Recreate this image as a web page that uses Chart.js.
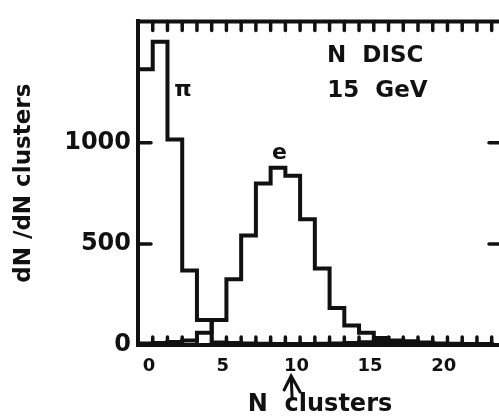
<!DOCTYPE html>
<html>
<head>
<meta charset="utf-8">
<script src="https://cdn.jsdelivr.net/npm/chart.js@4.4.0/dist/chart.umd.min.js"></script>
<style>
  html, body { margin: 0; padding: 0; background: #fff; overflow: hidden; }
  canvas { display: block; }
</style>
</head>
<body>
<canvas id="ndisc-clusters" width="502" height="419"></canvas>
<script>
/* N DISC, 15 GeV: cluster count for pions and electrons */
const binEdges = [-0.75, 0.25, 1.25, 2.25, 3.25, 4.25, 5.25, 6.25, 7.25, 8.25, 9.25, 10.25,
    11.25, 12.25, 13.25, 14.25, 15.25, 16.25, 17.25, 18.25, 19.25, 20.25, 21.25, 22.25, 23.25];
const pionCounts = [1364, 1499, 1016, 368, 124, 12, 10, 8, 6, 5, 5, 5,
    6, 8, 10, 14, 18, 16, 10, 6, 5, 5, 5, 5];
const electronCounts = [8, 10, 15, 22, 60, 124, 325, 542, 799, 877, 837, 622,
    378, 183, 96, 60, 35, 22, 18, 12, 8, 6, 5, 5];
const xTickValues = [0, 5, 10, 15, 20];
const yTickValues = [0, 500, 1000];
const sideTickValues = [500, 1000];
const arrowAt = 9.64;

const ink = '#111';
const face = '"DejaVu Sans", sans-serif';

function histPoints(counts) {
    const pts = counts.map((c, i) => ({ x: binEdges[i], y: c }));
    pts.push({ x: binEdges[counts.length], y: 0 });
    return pts;
}

// inward ticks, top frame line and the hand-lettered notes
const frameExtras = {
    id: 'frameExtras',
    afterDatasetsDraw(chart) {
        const { ctx, chartArea: a, scales: { x, y } } = chart;
        ctx.save();
        ctx.strokeStyle = ink;
        ctx.fillStyle = ink;
        ctx.lineCap = 'round';

        ctx.lineWidth = 4;
        ctx.beginPath();
        ctx.moveTo(a.left, a.top);
        ctx.lineTo(a.right, a.top);
        ctx.stroke();

        ctx.lineWidth = 3.5;
        binEdges.forEach(v => {
            if (v <= x.min || v >= x.max) return;
            const px = x.getPixelForValue(v);
            ctx.beginPath();
            ctx.moveTo(px, a.top);
            ctx.lineTo(px, a.top + 9);
            ctx.moveTo(px, a.bottom);
            ctx.lineTo(px, a.bottom - 8);
            ctx.stroke();
        });
        sideTickValues.forEach(v => {
            const py = y.getPixelForValue(v);
            ctx.beginPath();
            ctx.moveTo(a.left, py);
            ctx.lineTo(a.left + 13, py);
            ctx.moveTo(a.right, py);
            ctx.lineTo(a.right - 13, py);
            ctx.stroke();
        });

        ctx.textAlign = 'center';
        ctx.textBaseline = 'middle';
        ctx.font = 'bold 23px ' + face;
        ctx.fillText('N  DISC', x.getPixelForValue(15.35), y.getPixelForValue(1430));
        ctx.fillText('15  GeV', x.getPixelForValue(15.5), y.getPixelForValue(1258));
        ctx.font = 'bold 22px ' + face;
        ctx.fillText('π', x.getPixelForValue(2.3), y.getPixelForValue(1258));
        ctx.fillText('e', x.getPixelForValue(8.85), y.getPixelForValue(947));

        // little arrow under the 10
        const ax = x.getPixelForValue(arrowAt);
        const ay = a.bottom + 31;
        ctx.lineWidth = 3;
        ctx.beginPath();
        ctx.moveTo(ax - 7, ay + 14);
        ctx.lineTo(ax, ay);
        ctx.lineTo(ax + 9, ay + 16);
        ctx.moveTo(ax, ay);
        ctx.lineTo(ax + 1, ay + 22);
        ctx.stroke();
        ctx.restore();
    }
};

const ctx_clusters = document.getElementById('ndisc-clusters').getContext('2d');
const clusterChart = new Chart(ctx_clusters, {
    type: 'line',
    data: {
        datasets: [{
            label: 'π',
            data: histPoints(pionCounts),
            stepped: true,
            borderColor: ink,
            borderWidth: 4,
            pointRadius: 0,
            fill: false
        }, {
            label: 'e',
            data: histPoints(electronCounts),
            stepped: true,
            borderColor: ink,
            borderWidth: 4,
            pointRadius: 0,
            fill: false
        }]
    },
    options: {
        responsive: false,
        animation: false,
        events: [],
        layout: { padding: { top: 11, right: 0, bottom: 0, left: 0 } },
        plugins: {
            legend: { display: false },
            tooltip: { enabled: false }
        },
        scales: {
            x: {
                type: 'linear',
                min: -0.75,
                max: 23.95,
                afterBuildTicks: s => { s.ticks = xTickValues.map(v => ({ value: v })); },
                afterFit: s => { s.height = 74; },
                grid: { drawOnChartArea: false, drawTicks: false },
                border: { display: true, color: ink, width: 4 },
                ticks: {
                    color: ink,
                    padding: 11,
                    maxRotation: 0,
                    autoSkip: false,
                    callback: v => String(v),
                    font: { family: face, size: 18, weight: 'bold' }
                },
                title: {
                    display: true,
                    text: 'N  clusters',
                    color: ink,
                    padding: { top: 0, bottom: 0 },
                    font: { family: face, size: 24, weight: 'bold' }
                }
            },
            y: {
                type: 'linear',
                min: 0,
                max: 1600,
                afterBuildTicks: s => { s.ticks = yTickValues.map(v => ({ value: v })); },
                afterFit: s => { s.width = 138; },
                grid: { drawOnChartArea: false, drawTicks: false },
                border: { display: true, color: ink, width: 4 },
                ticks: {
                    color: ink,
                    padding: 7,
                    callback: v => String(v),
                    font: { family: face, size: 24, weight: 'bold' }
                },
                title: {
                    display: true,
                    text: 'dN /dN clusters',
                    color: ink,
                    padding: { top: 10, bottom: 0 },
                    font: { family: face, size: 23, weight: 'bold' }
                }
            }
        }
    },
    plugins: [frameExtras]
});
</script>
</body>
</html>
